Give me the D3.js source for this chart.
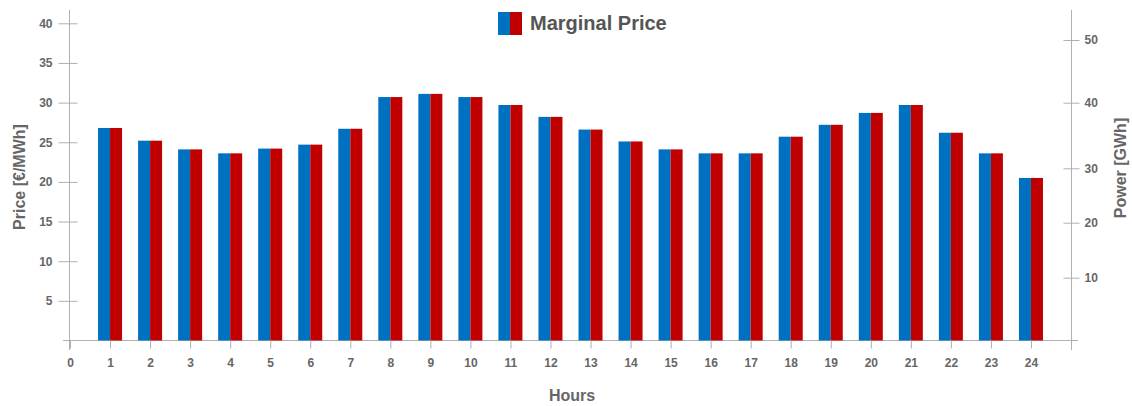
<!DOCTYPE html>
<html>
<head>
<meta charset="utf-8">
<script src="https://cdn.jsdelivr.net/npm/d3@7"></script>
<style>
  html, body { margin: 0; padding: 0; background: #fff; }
  svg { display: block; font-family: "Liberation Sans", Arial, sans-serif; }
  .tick text { fill: #666; font-size: 12px; font-weight: bold; }
  .domain, .tick line { stroke: #b0b0b0; }
</style>
</head>
<body>
<svg id="chart" width="1132" height="406"></svg>
<script>
// Hourly marginal price (€/MWh)
const hours = d3.range(1, 25);
const marginalPrice = [26.8, 25.2, 24.1, 23.6, 24.2, 24.7, 26.7, 30.7, 31.1, 30.7, 29.7, 28.2,
                       26.6, 25.1, 24.1, 23.6, 23.6, 25.7, 27.2, 28.7, 29.7, 26.2, 23.6, 20.5];
const hourTicks = d3.range(0, 25);
const priceTicks = [5, 10, 15, 20, 25, 30, 35, 40];
const powerTicks = [10, 20, 30, 40, 50];
const powerStops = [0, 10, 20, 30, 40, 50];

const svg = d3.select("#chart");

const x = d3.scaleLinear().domain([0, 25]).range([70, 1071]);
const yPrice = d3.scaleLinear().domain([0, 40]).range([340.5, 23.3]);
const yPower = d3.scaleLinear().domain(powerStops).range([340.5, 277.7, 222.7, 168.3, 102.7, 40]);

const barHalf = 12;
const blue = "#0070C0", red = "#C00000";

// x axis baseline
svg.append("line")
  .attr("x1", 63).attr("x2", 1078)
  .attr("y1", yPrice(0)).attr("y2", yPrice(0))
  .attr("stroke", "#b0b0b0");

// bars: each hour drawn as a blue/red two-tone column
const g = svg.append("g");
g.selectAll("rect.b").data(hours).join("rect")
  .attr("x", h => x(h) - barHalf)
  .attr("width", barHalf)
  .attr("y", (h, i) => yPrice(marginalPrice[i]))
  .attr("height", (h, i) => yPrice(0) - yPrice(marginalPrice[i]))
  .attr("fill", blue);
g.selectAll("rect.r").data(hours).join("rect")
  .attr("x", h => x(h))
  .attr("width", barHalf)
  .attr("y", (h, i) => yPrice(marginalPrice[i]))
  .attr("height", (h, i) => yPrice(0) - yPrice(marginalPrice[i]))
  .attr("fill", red);

// left axis
const left = svg.append("g").attr("transform", `translate(69.5,0)`)
  .call(d3.axisLeft(yPrice).tickValues(priceTicks).tickSize(11).tickPadding(6));
left.select(".domain").remove();
left.selectAll(".tick line").attr("x2", 8).attr("x1", -11);
left.append("line").attr("x1", 0).attr("x2", 0).attr("y1", 10).attr("y2", 350).attr("stroke", "#b0b0b0");

// right axis
const right = svg.append("g").attr("transform", `translate(1071.5,0)`)
  .call(d3.axisRight(yPower).tickValues(powerTicks).tickSize(8).tickPadding(5));
right.select(".domain").remove();
right.selectAll(".tick line").attr("x1", -8).attr("x2", 8);
right.append("line").attr("x1", 0).attr("x2", 0).attr("y1", 10).attr("y2", 350).attr("stroke", "#b0b0b0");

// bottom axis ticks and hour labels
const bottom = svg.append("g").attr("transform", `translate(0,${yPrice(0)})`)
  .call(d3.axisBottom(x).tickValues(hourTicks).tickFormat(d3.format("d")).tickSize(8).tickPadding(10));
bottom.select(".domain").remove();

// axis titles
svg.append("text")
  .attr("transform", "translate(25,177) rotate(-90)")
  .attr("text-anchor", "middle")
  .attr("fill", "#666").attr("font-size", 16).attr("font-weight", "bold")
  .text("Price [€/MWh]");
svg.append("text")
  .attr("transform", "translate(1126,168) rotate(-90)")
  .attr("text-anchor", "middle")
  .attr("fill", "#666").attr("font-size", 16).attr("font-weight", "bold")
  .text("Power [GWh]");
svg.append("text")
  .attr("x", 572).attr("y", 401)
  .attr("text-anchor", "middle")
  .attr("fill", "#666").attr("font-size", 16).attr("font-weight", "bold")
  .text("Hours");

// legend
const legend = svg.append("g");
legend.append("rect").attr("x", 498).attr("y", 12).attr("width", 12).attr("height", 23).attr("fill", blue);
legend.append("rect").attr("x", 510).attr("y", 12).attr("width", 12).attr("height", 23).attr("fill", red);
legend.append("text")
  .attr("x", 530).attr("y", 30)
  .attr("fill", "#555").attr("font-size", 20).attr("font-weight", "bold")
  .text("Marginal Price");
</script>
</body>
</html>
